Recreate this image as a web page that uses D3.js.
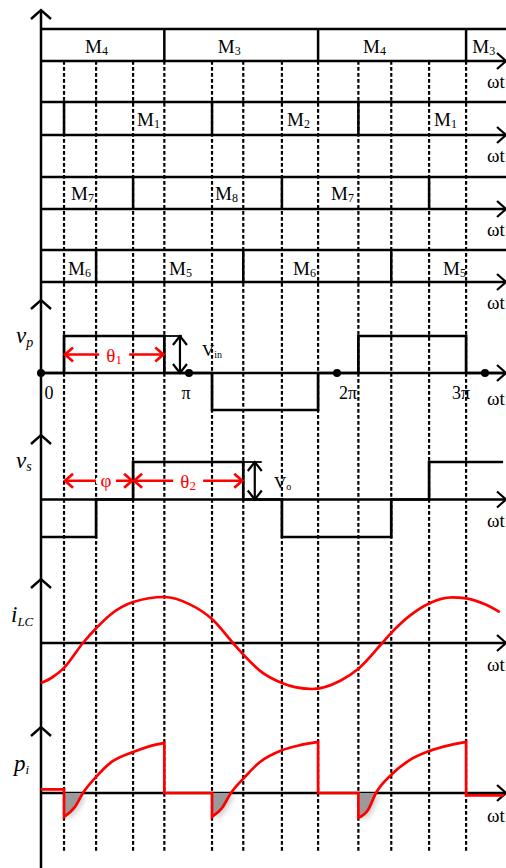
<!DOCTYPE html>
<html><head><meta charset="utf-8">
<script src="https://cdn.jsdelivr.net/npm/d3@7"></script>
<style>
html,body{margin:0;padding:0;background:#fff;}
svg{display:block;}
svg text{font-family:"Liberation Serif","Times New Roman",serif;}
</style></head><body>
<svg id="chart" width="506" height="868"></svg>
<script>
// Angles are in degrees of ωt, 0 .. 3π (540°)
const dashedAngles = [28, 67, 112, 150, 208, 246, 293, 337, 386, 426, 472, 517];

// Switch conduction rows: edges where the conducting switch changes, labels with their start angle
const rowM34Edges = [150, 337, 517];
const rowM34Labels = [{sub: "4", at: 53.5}, {sub: "3", at: 215}, {sub: "4", at: 391.6}, {sub: "3", at: 524.5}];
const rowM12Edges = [28, 208, 386];
const rowM12Labels = [{sub: "1", at: 116.8}, {sub: "2", at: 299.2}, {sub: "1", at: 478}];
const rowM78Edges = [112, 293, 472];
const rowM78Labels = [{sub: "7", at: 36.5}, {sub: "8", at: 211.6}, {sub: "7", at: 352.7}];
const rowM56Edges = [67, 246, 426];
const rowM56Labels = [{sub: "6", at: 32.8}, {sub: "5", at: 155.7}, {sub: "6", at: 306.5}, {sub: "5", at: 489}];

// Primary / secondary bridge voltages (normalised levels, held until next angle)
const vpSteps = [[0, 0], [28, 1], [150, 0], [208, -1], [337, 0], [386, 1], [517, 0], [563, 0]];
const vsSteps = [[0, -1], [67, 0], [112, 1], [246, 0], [293, -1], [426, 0], [472, 1], [562, 1]];

// Resonant tank current (normalised)
const iLC = [[0, -0.87], [13.4, -0.75], [28, -0.54], [51, 0], [67, 0.32], [84, 0.61], [112, 0.89],
  [150, 1.0], [181, 0.84], [208, 0.52], [233.5, 0], [247, -0.27], [266, -0.60],
  [293, -0.87], [309, -0.96], [330, -1.0], [364, -0.82], [386, -0.56], [415, 0], [426, 0.22],
  [449, 0.60], [472, 0.86], [500, 0.99], [517, 0.97], [540, 0.84], [558, 0.67]];

// Input power: curved parts while vp is non-zero, and the levels held in between
const piArcs = [
  [[28, -0.52], [41.4, -0.30], [51, 0], [67, 0.35], [84, 0.65], [112, 0.89], [132.6, 1.02], [150, 1.09]],
  [[208, -0.52], [220, -0.33], [231, 0], [247, 0.33], [266, 0.67], [293, 0.93], [315, 1.04], [337, 1.11]],
  [[386, -0.54], [397.7, -0.37], [407.4, 0], [425.7, 0.39], [448.8, 0.72], [472, 0.91], [497.4, 1.04], [517, 1.11]]
];
const piHolds = [{from: 0, level: 0.08}, {from: 150, level: 0}, {from: 337, level: 0}, {from: 517, level: -0.05}];
const piEnd = 563;

const tickLabels = [{t: "0", at: 9.7}, {t: "π", at: 176.4}, {t: "2π", at: 373.4}, {t: "3π", at: 511}];
const tickDots = [0, 180, 360, 540];

const RED = "#ff0000";
const svg = d3.select("#chart");
const x = d3.scaleLinear().domain([0, 540]).range([41, 485]);
const yVp = d3.scaleLinear().domain([-1, 1]).range([410, 336]);
const yVs = d3.scaleLinear().domain([-1, 1]).range([537, 462]);
const yI = d3.scaleLinear().domain([-1, 1]).range([689, 597]);
const yP = d3.scaleLinear().domain([-1, 1]).range([839, 747]);

const defs = svg.append("defs");
defs.append("filter").attr("id", "soft").attr("x", "-50%").attr("y", "-50%").attr("width", "200%").attr("height", "200%")
  .append("feGaussianBlur").attr("stdDeviation", 2.2);

// vertical dashed timing lines
svg.append("g").selectAll("line").data(dashedAngles).join("line")
  .attr("x1", d => x(d)).attr("x2", d => x(d)).attr("y1", 61).attr("y2", 853)
  .attr("stroke", "#000").attr("stroke-width", 2.2).attr("stroke-dasharray", "3.8,2.2");

const AXIS_X = x(0);
function chevronRight(g, yy) {
  g.append("path").attr("d", `M497,${yy - 8}L506,${yy}L497,${yy + 8}`)
    .attr("fill", "none").attr("stroke", "#000").attr("stroke-width", 2.2);
}
function chevronUp(g, yy) {
  g.append("path").attr("d", `M${AXIS_X - 10},${yy + 9}L${AXIS_X},${yy}L${AXIS_X + 10},${yy + 9}`)
    .attr("fill", "none").attr("stroke", "#000").attr("stroke-width", 2.4);
}
function omegaT(g, yy) {
  g.append("text").attr("x", 487).attr("y", yy).attr("font-size", 19).text("ωt");
}
function subText(g, px, py, main, sub, o) {
  const t = g.append("text").attr("x", px).attr("y", py).attr("font-size", o.size)
    .attr("fill", o.fill || "#000").attr("font-style", o.italic ? "italic" : null)
    .attr("text-anchor", o.anchor || "start");
  t.append("tspan").text(main);
  t.append("tspan").attr("font-size", o.subSize).attr("dy", o.dy).text(sub);
  return t;
}

// switch rows
const rows = [
  {top: 29, bot: 61, base: 53, edges: rowM34Edges, labels: rowM34Labels},
  {top: 102, bot: 135, base: 126, edges: rowM12Edges, labels: rowM12Labels},
  {top: 177, bot: 209, base: 200, edges: rowM78Edges, labels: rowM78Labels},
  {top: 250, bot: 282, base: 275, edges: rowM56Edges, labels: rowM56Labels}
];
const gRows = svg.append("g");
rows.forEach(r => {
  gRows.append("line").attr("x1", AXIS_X).attr("x2", 506).attr("y1", r.top).attr("y2", r.top)
    .attr("stroke", "#000").attr("stroke-width", 2.3);
  gRows.append("line").attr("x1", AXIS_X).attr("x2", 505).attr("y1", r.bot).attr("y2", r.bot)
    .attr("stroke", "#000").attr("stroke-width", 2.3);
  chevronRight(gRows, r.bot);
  omegaT(gRows, r.bot + 27);
  gRows.append("g").selectAll("line").data(r.edges).join("line")
    .attr("x1", d => x(d)).attr("x2", d => x(d)).attr("y1", r.top).attr("y2", r.bot)
    .attr("stroke", "#000").attr("stroke-width", 2.5);
  r.labels.forEach(l => subText(gRows, x(l.at), r.base, "M", l.sub, {size: 19, subSize: 12, dy: 2}));
});

// left vertical axis
svg.append("line").attr("x1", AXIS_X).attr("x2", AXIS_X).attr("y1", 10).attr("y2", 868)
  .attr("stroke", "#000").attr("stroke-width", 2.5);
[10, 300, 435, 579, 727].forEach(yy => chevronUp(svg, yy));

// ---- vp panel
const gVp = svg.append("g");
gVp.append("line").attr("x1", AXIS_X).attr("x2", 505).attr("y1", yVp(0)).attr("y2", yVp(0))
  .attr("stroke", "#000").attr("stroke-width", 2.5);
chevronRight(gVp, yVp(0));
omegaT(gVp, yVp(0) + 32);
gVp.append("path").datum(vpSteps)
  .attr("d", d3.line().x(d => x(d[0])).y(d => yVp(d[1])).curve(d3.curveStepAfter))
  .attr("fill", "none").attr("stroke", "#000").attr("stroke-width", 2.7);
gVp.selectAll("circle").data(tickDots).join("circle")
  .attr("cx", d => x(d)).attr("cy", yVp(0)).attr("r", 4).attr("fill", "#000");
gVp.selectAll("text.tick").data(tickLabels).join("text").attr("class", "tick")
  .attr("x", d => x(d.at)).attr("y", yVp(0) + 26).attr("text-anchor", "middle")
  .attr("font-size", 18).text(d => d.t);
subText(gVp, 16, 343, "v", "p", {size: 23, subSize: 14, dy: 4, italic: true});
// Vin magnitude marker
const vinX = x(169);
gVp.append("line").attr("x1", x(150)).attr("x2", vinX + 2).attr("y1", yVp(1)).attr("y2", yVp(1))
  .attr("stroke", "#000").attr("stroke-width", 1.8);
gVp.append("line").attr("x1", vinX).attr("x2", vinX).attr("y1", yVp(1)).attr("y2", yVp(0))
  .attr("stroke", "#000").attr("stroke-width", 2.2);
gVp.append("path").attr("d", `M${vinX - 7},${yVp(1) + 9}L${vinX},${yVp(1)}L${vinX + 7},${yVp(1) + 9}`)
  .attr("fill", "none").attr("stroke", "#000").attr("stroke-width", 2.2);
gVp.append("path").attr("d", `M${vinX - 7},${yVp(0) - 9}L${vinX},${yVp(0)}L${vinX + 7},${yVp(0) - 9}`)
  .attr("fill", "none").attr("stroke", "#000").attr("stroke-width", 2.2);
subText(gVp, 202, 356, "V", "in", {size: 17, subSize: 10, dy: 2});

// red span arrows
function spanArrow(g, a0, a1, yy, label, sub, labelAt, gapW) {
  const x0 = x(a0), x1 = x(a1);
  g.append("line").attr("x1", x0 + 1).attr("x2", x1 - 1).attr("y1", yy).attr("y2", yy)
    .attr("stroke", RED).attr("stroke-width", 2.7);
  g.append("path").attr("d", `M${x0 + 9},${yy - 7}L${x0 + 1},${yy}L${x0 + 9},${yy + 7}`)
    .attr("fill", "none").attr("stroke", RED).attr("stroke-width", 2.7);
  g.append("path").attr("d", `M${x1 - 9},${yy - 7}L${x1 - 1},${yy}L${x1 - 9},${yy + 7}`)
    .attr("fill", "none").attr("stroke", RED).attr("stroke-width", 2.7);
  const lx = x(labelAt);
  g.append("rect").attr("x", lx - gapW / 2).attr("y", yy - 3).attr("width", gapW).attr("height", 6).attr("fill", "#fff");
  if (sub) subText(g, lx, yy + 7, label, sub, {size: 19, subSize: 13, dy: 2, fill: RED, anchor: "middle"});
  else g.append("text").attr("x", lx).attr("y", yy + 6).attr("text-anchor", "middle")
    .attr("font-size", 19).attr("fill", RED).text(label);
}
spanArrow(gVp, 28, 150, yVp(0.5), "θ", "1", 89, 30);

// ---- vs panel
const gVs = svg.append("g");
gVs.append("line").attr("x1", AXIS_X).attr("x2", 505).attr("y1", yVs(0)).attr("y2", yVs(0))
  .attr("stroke", "#000").attr("stroke-width", 2.5);
chevronRight(gVs, yVs(0));
omegaT(gVs, yVs(0) + 27);
gVs.append("path").datum(vsSteps)
  .attr("d", d3.line().x(d => x(d[0])).y(d => yVs(d[1])).curve(d3.curveStepAfter))
  .attr("fill", "none").attr("stroke", "#000").attr("stroke-width", 2.7);
subText(gVs, 16, 468, "v", "s", {size: 23, subSize: 14, dy: 3, italic: true});
const voX = x(260);
gVs.append("line").attr("x1", x(246)).attr("x2", voX + 7).attr("y1", yVs(1)).attr("y2", yVs(1))
  .attr("stroke", "#000").attr("stroke-width", 1.8);
gVs.append("line").attr("x1", voX).attr("x2", voX).attr("y1", yVs(1)).attr("y2", yVs(0))
  .attr("stroke", "#000").attr("stroke-width", 2.2);
gVs.append("path").attr("d", `M${voX - 7},${yVs(1) + 9}L${voX},${yVs(1)}L${voX + 7},${yVs(1) + 9}`)
  .attr("fill", "none").attr("stroke", "#000").attr("stroke-width", 2.2);
gVs.append("path").attr("d", `M${voX - 7},${yVs(0) - 9}L${voX},${yVs(0)}L${voX + 7},${yVs(0) - 9}`)
  .attr("fill", "none").attr("stroke", "#000").attr("stroke-width", 2.2);
subText(gVs, 274, 488, "V", "o", {size: 17, subSize: 10, dy: 2});
spanArrow(gVs, 28, 112, yVs(0.5), "φ", null, 79, 20);
spanArrow(gVs, 112, 246, yVs(0.5), "θ", "2", 179, 30);

// ---- iLC panel
const gI = svg.append("g");
gI.append("line").attr("x1", AXIS_X).attr("x2", 505).attr("y1", yI(0)).attr("y2", yI(0))
  .attr("stroke", "#000").attr("stroke-width", 2.5);
chevronRight(gI, yI(0));
omegaT(gI, yI(0) + 28);
gI.append("path").datum(iLC)
  .attr("d", d3.line().x(d => x(d[0])).y(d => yI(d[1])).curve(d3.curveMonotoneX))
  .attr("fill", "none").attr("stroke", RED).attr("stroke-width", 2.7);
subText(gI, 11, 622, "i", "LC", {size: 23, subSize: 13, dy: 4, italic: true});

// ---- pi panel
const gP = svg.append("g");
gP.append("line").attr("x1", AXIS_X).attr("x2", 505).attr("y1", yP(0)).attr("y2", yP(0))
  .attr("stroke", "#000").attr("stroke-width", 2.5);
chevronRight(gP, yP(0));
omegaT(gP, yP(0) + 29);
const arcLine = d3.line().x(d => x(d[0])).y(d => yP(d[1])).curve(d3.curveMonotoneX);
const arcArea = d3.area().x(d => x(d[0])).y0(yP(0)).y1(d => yP(d[1])).curve(d3.curveMonotoneX);

// negative (returned) power lobes: soft shadow then grey fill
piArcs.forEach((arc, i) => {
  const zero = arc.find(d => d[1] >= 0)[0];
  defs.append("clipPath").attr("id", "neg" + i).append("rect")
    .attr("x", x(arc[0][0])).attr("y", yP(0)).attr("width", x(zero) - x(arc[0][0])).attr("height", 40);
  gP.append("g").attr("transform", "translate(4,3)").attr("filter", "url(#soft)").attr("opacity", 0.3)
    .append("path").attr("clip-path", `url(#neg${i})`).attr("d", arcArea(arc)).attr("fill", "#777");
  gP.append("path").attr("clip-path", `url(#neg${i})`).attr("d", arcArea(arc)).attr("fill", "#9a9a9a");
});

let piPath = "";
piHolds.forEach((h, i) => {
  const until = i < piArcs.length ? piArcs[i][0][0] : piEnd;
  piPath += (i === 0 ? "M" : "L") + x(h.from) + "," + yP(h.level) + "L" + x(until) + "," + yP(h.level);
  if (i < piArcs.length) {
    const arc = piArcs[i];
    piPath += "L" + arcLine(arc).slice(1);
    piPath += "L" + x(arc[arc.length - 1][0]) + "," + yP(piHolds[i + 1].level);
  }
});
gP.append("path").attr("d", piPath).attr("fill", "none").attr("stroke", RED).attr("stroke-width", 2.7)
  .attr("stroke-linejoin", "miter");
subText(gP, 14, 771, "p", "i", {size: 23, subSize: 13, dy: 3, italic: true});
</script>
</body></html>
